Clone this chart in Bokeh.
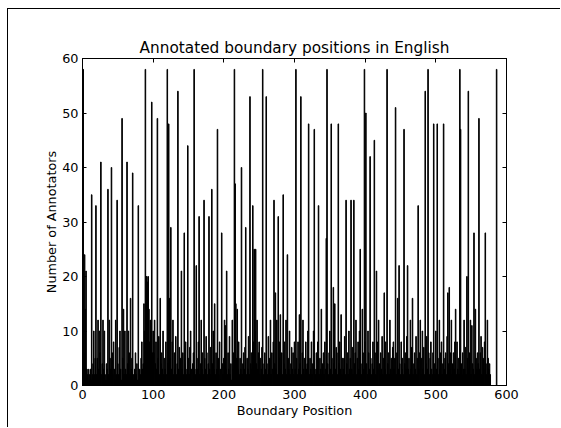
from bokeh.plotting import figure
from bokeh.layouts import column
from bokeh.models import LinearAxis, FixedTicker, Range1d, CustomJSTickFormatter
from bokeh.embed import file_html
from bokeh.resources import INLINE

# Number of annotators placing a boundary at each position (index = boundary position)
counts = [
    3, 58, 6, 24, 14, 21, 3, 2, 3, 1, 2, 3, 1, 35, 2, 4, 10, 2, 5, 33,
    2, 5, 12, 3, 10, 6, 41, 2, 4, 12, 3, 10, 2, 1, 4, 3, 36, 2, 12, 5,
    3, 40, 6, 2, 8, 3, 1, 12, 2, 34, 4, 2, 7, 10, 3, 1, 49, 5, 14, 2,
    10, 3, 2, 41, 4, 10, 6, 2, 16, 3, 5, 39, 2, 1, 3, 6, 2, 4, 1, 33,
    1, 3, 2, 5, 8, 3, 4, 15, 10, 58, 20, 20, 19, 20, 14, 8, 12, 10, 52, 6,
    10, 6, 12, 4, 8, 3, 49, 5, 9, 2, 16, 4, 6, 3, 10, 2, 5, 3, 8, 2,
    58, 4, 48, 16, 5, 29, 3, 8, 12, 2, 6, 3, 9, 2, 4, 54, 3, 7, 2, 5,
    21, 3, 6, 2, 28, 4, 8, 2, 3, 44, 5, 2, 7, 10, 3, 1, 4, 6, 58, 3,
    2, 22, 5, 3, 8, 31, 2, 4, 12, 3, 6, 2, 34, 5, 3, 9, 6, 2, 4, 31,
    3, 7, 2, 36, 4, 10, 3, 15, 2, 6, 3, 47, 5, 2, 8, 3, 1, 28, 4, 2,
    5, 12, 11, 3, 21, 2, 6, 3, 9, 2, 4, 1, 12, 3, 6, 58, 37, 15, 5, 14,
    3, 8, 2, 5, 3, 40, 2, 4, 6, 3, 7, 29, 2, 5, 3, 9, 2, 53, 4, 6,
    3, 33, 8, 25, 10, 25, 4, 12, 3, 6, 8, 2, 5, 3, 7, 58, 2, 4, 6, 3,
    53, 4, 2, 9, 3, 5, 12, 2, 6, 3, 8, 34, 4, 17, 3, 12, 2, 31, 5, 8,
    13, 3, 6, 2, 35, 4, 8, 3, 12, 2, 24, 5, 3, 10, 2, 4, 7, 3, 6, 2,
    8, 3, 58, 5, 2, 8, 3, 13, 4, 53, 2, 6, 12, 3, 5, 2, 8, 3, 4, 10,
    48, 2, 5, 3, 8, 2, 4, 10, 47, 3, 2, 6, 3, 8, 33, 2, 5, 3, 14, 2,
    4, 6, 2, 8, 3, 27, 58, 4, 2, 6, 10, 3, 48, 5, 2, 18, 4, 15, 3, 7,
    6, 2, 48, 4, 8, 3, 13, 2, 5, 3, 5, 9, 2, 34, 4, 6, 2, 10, 3, 5,
    34, 3, 7, 2, 34, 4, 6, 12, 2, 5, 8, 3, 10, 25, 4, 2, 14, 6, 3, 58,
    8, 50, 4, 2, 10, 6, 3, 42, 5, 2, 4, 8, 3, 45, 6, 2, 21, 8, 3, 12,
    4, 2, 6, 3, 9, 2, 5, 17, 3, 8, 2, 58, 4, 6, 2, 12, 3, 5, 2, 7,
    8, 3, 5, 51, 2, 6, 16, 3, 22, 4, 2, 8, 3, 5, 2, 47, 4, 6, 3, 9,
    22, 3, 5, 2, 12, 3, 7, 16, 2, 4, 6, 3, 9, 2, 5, 33, 3, 6, 12, 2,
    5, 10, 3, 7, 2, 54, 4, 9, 3, 58, 6, 2, 5, 8, 3, 2, 6, 48, 4, 2,
    10, 3, 48, 5, 2, 12, 3, 6, 8, 2, 4, 48, 3, 5, 6, 2, 9, 17, 4, 18,
    3, 6, 12, 2, 4, 6, 3, 8, 14, 2, 8, 3, 5, 2, 58, 47, 4, 2, 6, 3,
    12, 3, 7, 2, 20, 5, 54, 3, 6, 12, 2, 11, 4, 3, 28, 2, 14, 5, 3, 6,
    4, 49, 3, 6, 9, 2, 7, 5, 3, 8, 28, 4, 2, 12, 5, 3, 4, 2, 0, 0,
    0, 0, 0, 0, 0, 0, 58,
]
positions = list(range(len(counts)))

x_ticks = [0, 100, 200, 300, 400, 500, 600]
y_ticks = [0, 10, 20, 30, 40, 50, 60]

title_text = "Annotated boundary positions in English"
x_label = "Boundary Position"
y_label = "Number of Annotators"

FONT = "DejaVu Sans"

p = figure(
    width=552, height=418,
    x_range=Range1d(0, 600), y_range=Range1d(0, 60),
    output_backend="svg", toolbar_location=None,
    title=title_text,
)
p.min_border_left = 74
p.min_border_right = 54
p.min_border_top = 49
p.min_border_bottom = 42
p.background_fill_color = "white"
p.border_fill_color = "white"
p.outline_line_color = "black"
p.outline_line_width = 1
p.xgrid.visible = False
p.ygrid.visible = False

p.title.align = "center"
p.title.text_font = FONT
p.title.text_font_size = "15.3px"
p.title.text_font_style = "normal"
p.title.text_color = "black"
p.title.standoff = 4

p.vbar(x=positions, top=counts, width=0.8, bottom=0,
       fill_color="black", line_color="black", line_width=1)

for ax, ticks, lab in ((p.xaxis[0], x_ticks, x_label), (p.yaxis[0], y_ticks, y_label)):
    ax.ticker = FixedTicker(ticks=ticks)
    ax.axis_label = lab
    ax.axis_label_text_font = FONT
    ax.axis_label_text_font_size = "12.8px"
    ax.axis_label_text_font_style = "normal"
    ax.axis_label_text_color = "black"
    ax.major_label_text_font = FONT
    ax.major_label_text_font_size = "12.8px"
    ax.major_label_text_color = "black"
    ax.major_tick_in = 4
    ax.major_tick_out = 0
    ax.minor_tick_in = 0
    ax.minor_tick_out = 0
    ax.axis_line_color = "black"
    ax.major_tick_line_color = "black"
    ax.major_label_standoff = 4

p.xaxis[0].major_label_standoff = 4
p.xaxis[0].axis_label_standoff = 1
p.yaxis[0].axis_label_standoff = 0

blank = CustomJSTickFormatter(code="return ''")
top_ax = LinearAxis(ticker=FixedTicker(ticks=x_ticks), formatter=blank,
                    major_tick_in=4, major_tick_out=0, minor_tick_in=0, minor_tick_out=0,
                    axis_line_color="black", major_label_standoff=0)
right_ax = LinearAxis(ticker=FixedTicker(ticks=y_ticks), formatter=blank,
                      major_tick_in=4, major_tick_out=0, minor_tick_in=0, minor_tick_out=0,
                      axis_line_color="black", major_label_standoff=0)
p.add_layout(top_ax, "above")
p.add_layout(right_ax, "right")

layout = column(p, margin=(8, 0, 0, 7),
                styles={"border-top": "1px solid black", "border-left": "1px solid black"})

open("out.html", "w").write(file_html(layout, INLINE))
